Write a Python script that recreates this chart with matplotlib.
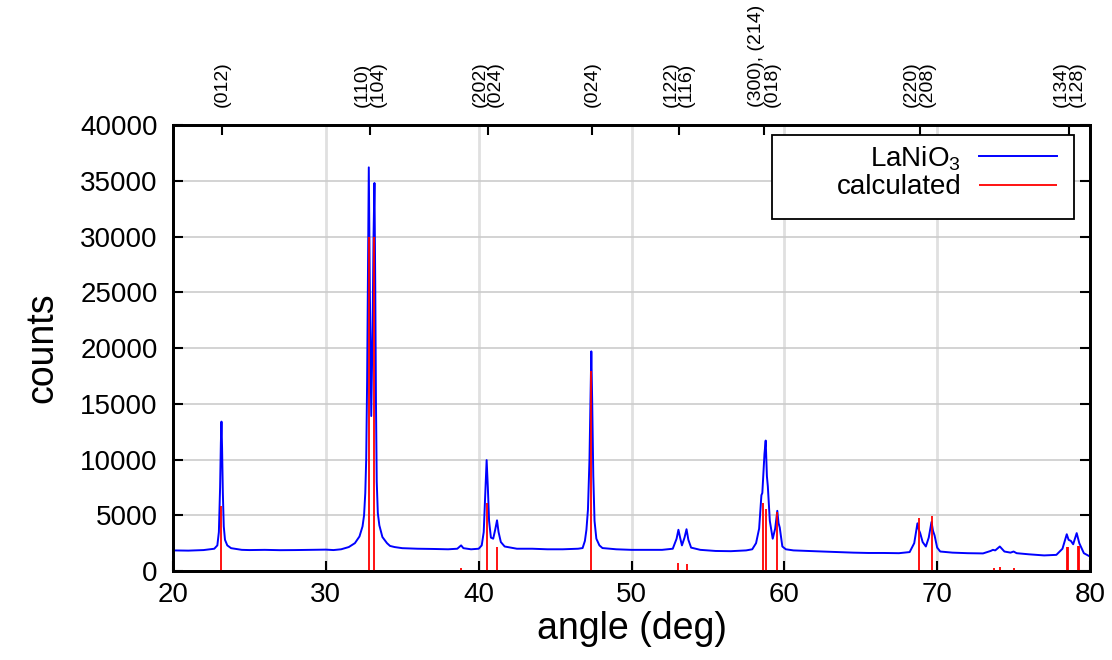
import matplotlib
matplotlib.use("Agg")
import matplotlib.pyplot as plt
from matplotlib.patches import Rectangle

plt.rcParams['font.family'] = ['Liberation Sans', 'DejaVu Sans']
plt.rcParams['mathtext.fontset'] = 'custom'
plt.rcParams['mathtext.rm'] = 'Liberation Sans'

angle = [20.0, 21.0, 22.0, 22.7, 22.9, 23.0, 23.08, 23.13, 23.17, 23.21, 23.26, 23.32, 23.4, 23.55,
         23.8, 24.5, 25.0, 26.0, 27.0, 28.0, 29.0, 30.0, 30.5, 31.0, 31.5, 31.9, 32.2, 32.4, 32.5,
         32.58, 32.64, 32.7, 32.76, 32.81, 32.88, 32.97, 33.06, 33.12, 33.18, 33.23, 33.28, 33.33,
         33.4, 33.5, 33.7, 34.0, 34.2, 34.5, 35.0, 36.0, 37.0, 38.0,
         38.6, 38.85, 39.0, 39.5, 40.0, 40.2, 40.33, 40.42, 40.52, 40.6, 40.68, 40.8, 40.95, 41.08,
         41.2, 41.3, 41.45, 41.7, 42.5, 43.5, 44.5, 45.5, 46.5, 46.8, 46.95, 47.05, 47.15, 47.25,
         47.32, 47.37, 47.43, 47.5, 47.58, 47.7, 47.9, 48.1, 49.0, 50.0,
         51.0, 52.0, 52.7, 52.95, 53.07, 53.18, 53.3, 53.47, 53.6, 53.72, 53.9, 54.5, 55.5, 56.5, 57.5,
         57.9, 58.15, 58.35, 58.5, 58.56, 58.7, 58.78, 58.86, 58.92, 59.05, 59.24, 59.4, 59.54, 59.62,
         59.7, 59.87, 60.1, 60.6, 61.5, 62.5, 63.5, 64.5, 65.5, 66.5, 67.5, 68.2, 68.5, 68.71, 68.8,
         68.89, 69.05, 69.26, 69.45, 69.63, 69.73, 69.83, 70.0, 70.2, 71.0, 72.0, 73.0, 73.5, 73.65,
         73.8, 74.1, 74.4, 74.8, 75.0, 75.2, 76.0, 77.0, 77.8, 78.2, 78.48, 78.6, 78.75, 78.9, 79.13,
         79.3, 79.6, 80.0]
counts = [1850, 1830, 1880, 2000, 2300, 3500, 7500, 11500, 13400, 11000, 7000, 4000, 2800, 2300,
          2050, 1900, 1880, 1900, 1870, 1880, 1900, 1920, 1880, 1950, 2150, 2500, 3100, 4000, 5000,
          7000, 10000, 17000, 28000, 36200, 25000, 13900, 22000, 30000, 34800, 26000, 15000, 8000,
          5200, 4100, 3050, 2500, 2250, 2150, 2050, 2000, 1980, 1950,
          2000, 2300, 2050, 1950, 2000, 2300, 3500, 6500, 9950, 7500, 4500, 3000, 2900, 3700,
          4550, 3500, 2600, 2200, 2000, 2000, 1950, 1950, 2000, 2060, 2700, 3700, 5500, 10000,
          16000, 19700, 15000, 8500, 4500, 2900, 2300, 2060, 1950, 1900,
          1900, 1900, 2000, 2900, 3700, 3000, 2300, 3000, 3750, 2800, 2100, 1900, 1800, 1780, 1850,
          1950, 2500, 3800, 6800, 7000, 10500, 11700, 8500, 7600, 4500, 2900, 3800, 5400, 4300,
          3900, 2200, 1950, 1850, 1800, 1750, 1700, 1650, 1620, 1620, 1600, 1700, 2500, 4280, 3700,
          3400, 2600, 2200, 3000, 4400, 3600, 3200, 2100, 1750, 1650, 1600, 1580, 1800, 1900,
          1850, 2200, 1750, 1650, 1750, 1600, 1500, 1400, 1450, 2000, 3300, 2800, 2700, 2400, 3400,
          2500, 1600, 1300]

# calculated reflections
calc_angle = [23.16, 32.81, 33.17, 38.85, 40.52, 41.2, 47.37, 53.07, 53.6, 58.58, 58.82, 59.54,
              68.8, 69.67, 73.7, 74.1, 75.0, 78.52, 78.58, 79.2, 79.26]
calc_counts = [5800, 30000, 30000, 250, 6100, 2150, 17900, 750, 600, 6100, 5600, 5300,
               4800, 4900, 300, 400, 300, 2200, 2200, 2250, 2250]

# hkl labels on the top axis
hkl_pos = [23.2, 32.9, 40.6, 47.4, 53.1, 58.7, 68.85, 78.65]
hkl_labels = ["(012)", "(110)\n(104)", "(202)\n(024)", "(024)", "(122)\n(116)",
              "(300), (214)\n(018)", "(220)\n(208)", "(134)\n(128)"]

fig = plt.figure(figsize=(11.12, 6.6), dpi=100)
ax = fig.add_axes([0.1556, 0.1348, 0.8246, 0.6758])

ax.plot(angle, counts, color='#0000ff', lw=1.4, label='LaNiO$_3$', zorder=3)
ax.vlines(calc_angle, 0, calc_counts, color='#ff0000', lw=1.3, label='calculated', zorder=4)

ax.set_xlim(20, 80)
ax.set_ylim(0, 40000)
ax.set_xticks(range(20, 81, 10))
ax.set_yticks(range(0, 40001, 5000))
ax.grid(axis='x', color='#e0e0e0', lw=2, zorder=0)
ax.grid(axis='y', color='#cccccc', lw=1.2, zorder=0)
ax.set_axisbelow(True)
ax.tick_params(direction='in', length=7, width=1.5, labelsize=20, top=True, right=True)
ax.tick_params(axis='y', pad=11)
ax.tick_params(axis='x', pad=8)
for s in ax.spines.values():
    s.set_linewidth(2)

ax.set_xlabel('angle (deg)', fontsize=27, labelpad=2)
ax.set_ylabel('counts', fontsize=27, labelpad=14)

ax2 = ax.twiny()
ax2.set_xlim(ax.get_xlim())
ax2.set_xticks(hkl_pos)
ax2.set_xticklabels(hkl_labels, rotation=90, fontsize=14, linespacing=0.9)
for lbl in ax2.get_xticklabels():
    lbl.set_multialignment('left')
ax2.tick_params(direction='in', length=7, width=1.5, pad=13)
for s in ax2.spines.values():
    s.set_linewidth(2)

# legend, gnuplot style: text right-aligned, sample on the right
leg = ax.legend(loc='upper right', bbox_to_anchor=(0.964, 0.957), frameon=False, fontsize=20,
                markerfirst=False, handlelength=2.8, handletextpad=0.65, borderpad=0,
                labelspacing=0.05, borderaxespad=0)
leg.set_zorder(10)
ax.add_patch(Rectangle((0.6537, 0.7892), 0.3288, 0.1884, transform=ax.transAxes,
                       facecolor='white', edgecolor='black', lw=1.3, zorder=9))

fig.savefig('out.png', dpi=100)
